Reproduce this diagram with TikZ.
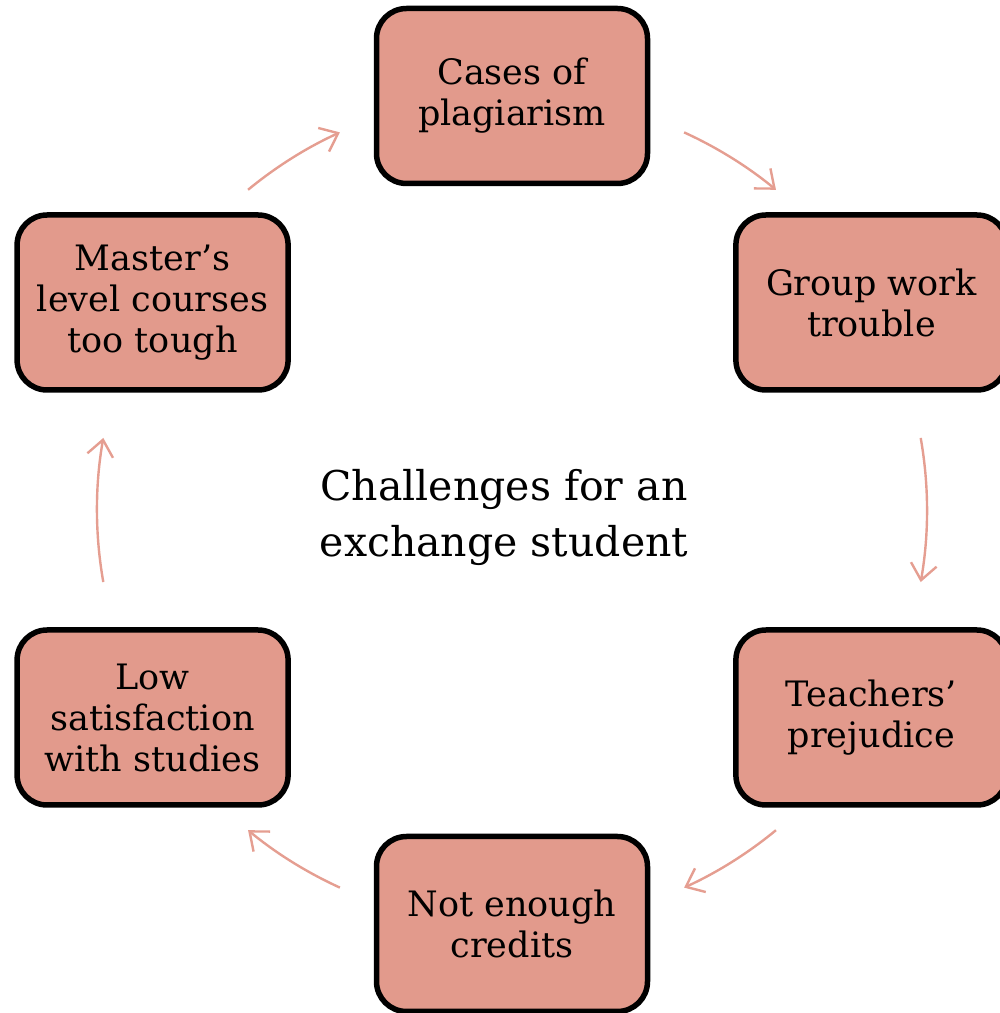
\documentclass[tikz,border=0pt]{standalone}
\usepackage{fontspec}
\setmainfont{DejaVu Serif}
\usetikzlibrary{arrows.meta,calc}
\definecolor{boxfill}{RGB}{226,154,140}
\definecolor{arrowcol}{RGB}{229,158,145}
\tikzset{
  stagebox/.style={draw=black, line width=5.5pt, fill=boxfill, rounded corners=30pt,
    minimum width=271pt, minimum height=175pt, inner sep=0pt, align=center,
    font=\fontsize{35}{41}\selectfont},
  cyclearrow/.style={draw=arrowcol, line width=2.4pt,
    -{Straight Barb[length=16pt,width=26pt,line width=2.4pt]}},
  titletext/.style={align=center, font=\fontsize{41}{56}\selectfont}
}
\begin{document}
\begin{tikzpicture}[x=1pt,y=1pt]
\useasboundingbox (0,0) rectangle (1000,1013);
\clip (0,0) rectangle (1000,1013);
\coordinate (C) at (512,503);
\node[stagebox] (b1) at ($(C)+(90:414)$) {Cases of\\plagiarism};
\node[stagebox] (b2) at ($(C)+(30:415)$) {Group work\\trouble};
\node[stagebox] (b3) at ($(C)+(-30:415)$) {Teachers’\\prejudice};
\node[stagebox] (b4) at ($(C)+(-90:414)$) {Not enough\\credits};
\node[stagebox] (b5) at ($(C)+(-150:415)$) {Low\\satisfaction\\with studies};
\node[stagebox] (b6) at ($(C)+(150:415)$) {Master’s\\level courses\\too tough};
\node[titletext] (title) at ($(C)+(-8,-7)$) {Challenges for an\\exchange student};
\coordinate (a1) at ($(C)+(65.5:415)$);
\coordinate (a2) at ($(C)+(10:415)$);
\coordinate (a3) at ($(C)+(-50.5:415)$);
\coordinate (a4) at ($(C)+(-114.5:415)$);
\coordinate (a5) at ($(C)+(-170:415)$);
\coordinate (a6) at ($(C)+(129.5:415)$);
\draw[cyclearrow] (a1) arc[start angle=65.5, end angle=50.5, radius=415];
\draw[cyclearrow] (a2) arc[start angle=10, end angle=-10, radius=415];
\draw[cyclearrow] (a3) arc[start angle=-50.5, end angle=-65.5, radius=415];
\draw[cyclearrow] (a4) arc[start angle=-114.5, end angle=-129.5, radius=415];
\draw[cyclearrow] (a5) arc[start angle=-170, end angle=-190, radius=415];
\draw[cyclearrow] (a6) arc[start angle=129.5, end angle=114.5, radius=415];
\end{tikzpicture}
\end{document}
